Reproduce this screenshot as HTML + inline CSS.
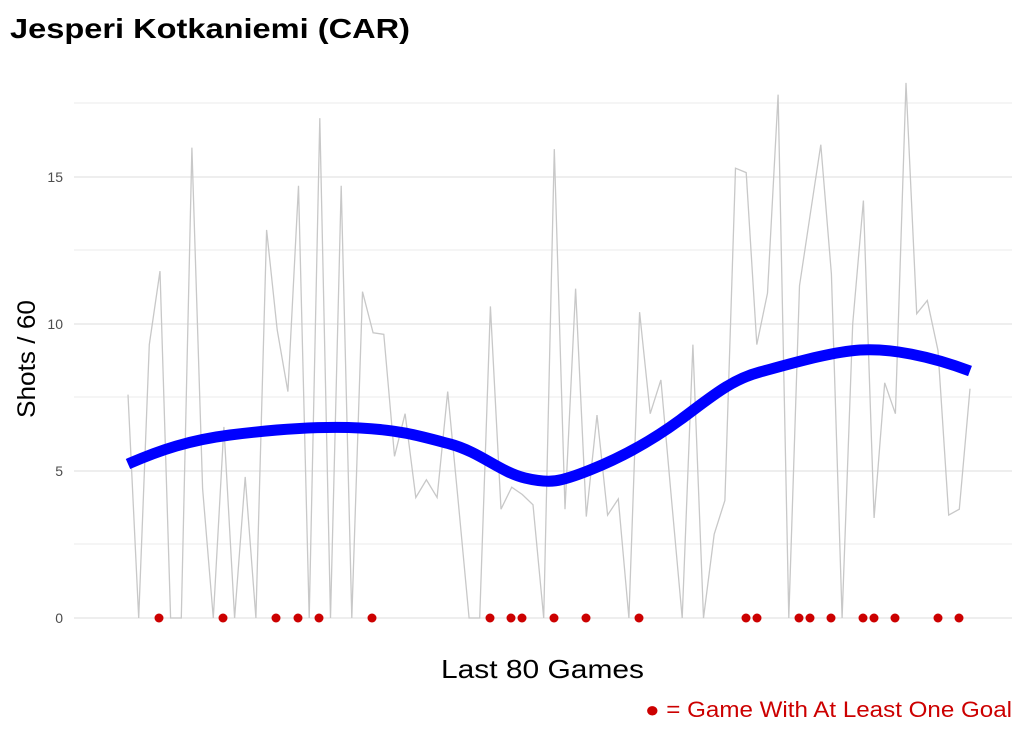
<!DOCTYPE html>
<html><head><meta charset="utf-8"><style>
html,body{margin:0;padding:0;background:#fff;}
svg{display:block;}
text{font-family:"Liberation Sans",Arial,sans-serif;}
</style></head><body>
<svg width="1024" height="731" viewBox="0 0 1024 731" xmlns="http://www.w3.org/2000/svg">
<rect width="1024" height="731" fill="#fff"/>
<text x="10" y="38" font-size="28" font-weight="bold" fill="#000" textLength="400" lengthAdjust="spacingAndGlyphs">Jesperi Kotkaniemi (CAR)</text>
<g stroke="#ebebeb" stroke-width="1">
<line x1="74" x2="1012" y1="103" y2="103"/>
<line x1="74" x2="1012" y1="250" y2="250"/>
<line x1="74" x2="1012" y1="397" y2="397"/>
<line x1="74" x2="1012" y1="544" y2="544"/>
</g>
<g stroke="#e3e3e3" stroke-width="1.3">
<line x1="74" x2="1012" y1="177" y2="177"/>
<line x1="74" x2="1012" y1="324" y2="324"/>
<line x1="74" x2="1012" y1="471" y2="471"/>
<line x1="74" x2="1012" y1="618" y2="618"/>
</g>
<g font-size="14" fill="#4d4d4d" text-anchor="end">
<text x="63" y="182">15</text>
<text x="63" y="329">10</text>
<text x="63" y="476">5</text>
<text x="63" y="623">0</text>
</g>
<polyline fill="none" stroke="#c8c8c8" stroke-width="1.3" points="128,394.6 138.7,618 149.3,344.6 160,271.1 170.6,618 181.3,618 191.9,147.6 202.6,488.6 213.3,618 223.9,426.9 234.6,618 245.2,476.9 255.9,618 266.6,229.9 277.2,329.9 287.9,391.6 298.5,185.8 309.2,618 319.8,118.2 330.5,618 341.2,185.8 351.8,618 362.5,291.7 373.1,332.8 383.8,334.3 394.5,456.3 405.1,413.7 415.8,497.5 426.4,479.8 437.1,497.5 447.7,391.6 458.4,503.3 469.1,618 479.7,618 490.4,306.4 501,509.2 511.7,487.2 522.3,494.5 533,504.8 543.7,618 554.3,149.1 565,509.2 575.6,288.7 586.3,516.6 597,415.1 607.6,515.1 618.3,498.9 628.9,618 639.6,312.2 650.2,413.7 660.9,379.9 671.6,500.4 682.2,618 692.9,344.6 703.5,618 714.2,534.2 724.9,500.4 735.5,168.2 746.2,172.6 756.8,344.6 767.5,293.1 778.1,94.7 788.8,618 799.5,285.8 810.1,215.2 820.8,144.7 831.4,274 842.1,618 852.7,324 863.4,200.5 874.1,518 884.7,382.8 895.4,413.7 906,82.9 916.7,313.7 927.3,300.5 938,350.5 948.7,515.1 959.3,509.2 970,388.7"/>
<path fill="none" stroke="#0000ff" stroke-width="11" stroke-linejoin="round" d="M128,464 C160,450 190,440 230,435 S320,426 360,428 S420,436 450,444 S500,472 525,478 S560,482 590,470 S650,442 680,420 S730,380 760,372 S830,352 860,350 S930,356 970,371"/>
<g fill="#cc0000">
<circle cx="159" cy="618" r="4.5"/><circle cx="223" cy="618" r="4.5"/><circle cx="276" cy="618" r="4.5"/><circle cx="298" cy="618" r="4.5"/><circle cx="319" cy="618" r="4.5"/><circle cx="372" cy="618" r="4.5"/><circle cx="490" cy="618" r="4.5"/><circle cx="511" cy="618" r="4.5"/><circle cx="522" cy="618" r="4.5"/><circle cx="554" cy="618" r="4.5"/><circle cx="586" cy="618" r="4.5"/><circle cx="639" cy="618" r="4.5"/><circle cx="746" cy="618" r="4.5"/><circle cx="757" cy="618" r="4.5"/><circle cx="799" cy="618" r="4.5"/><circle cx="810" cy="618" r="4.5"/><circle cx="831" cy="618" r="4.5"/><circle cx="863" cy="618" r="4.5"/><circle cx="874" cy="618" r="4.5"/><circle cx="895" cy="618" r="4.5"/><circle cx="938" cy="618" r="4.5"/><circle cx="959" cy="618" r="4.5"/>
</g>
<text x="441" y="678" font-size="26" fill="#000" textLength="203" lengthAdjust="spacingAndGlyphs">Last 80 Games</text>
<text transform="translate(35,359) rotate(-90)" font-size="25" text-anchor="middle" fill="#000" textLength="118" lengthAdjust="spacingAndGlyphs">Shots / 60</text>
<text x="645" y="717" font-size="22" fill="#cc0000" textLength="367" lengthAdjust="spacingAndGlyphs">● = Game With At Least One Goal</text>
</svg>
</body></html>
